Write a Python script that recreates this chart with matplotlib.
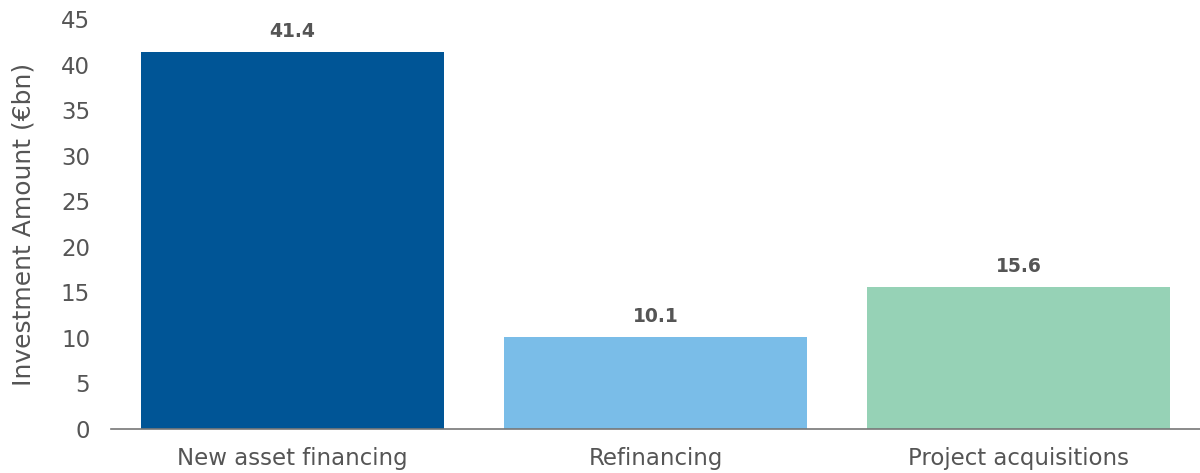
import matplotlib.pyplot as plt

# data
categories = ['New asset financing', 'Refinancing', 'Project acquisitions']
amounts = [41.4, 10.1, 15.6]
colors = ['#005596', '#7abde8', '#96d2b6']
yticks = [0, 5, 10, 15, 20, 25, 30, 35, 40, 45]

plt.rcParams['font.family'] = ['DejaVu Sans']
grey = '#555555'

fig = plt.figure(figsize=(12, 4.73), dpi=100)
ax = fig.add_axes([0.0925, 0.093, 0.9075, 0.866])

x = range(len(categories))
bars = ax.bar(x, amounts, width=0.835, color=colors)

for b, v in zip(bars, amounts):
    ax.annotate('{:.1f}'.format(v), (b.get_x() + b.get_width() / 2, v),
                xytext=(0, 8), textcoords='offset points',
                ha='center', va='bottom', fontsize=13.5, fontweight='bold', color=grey)

ax.set_xlim(-0.5, 2.5)
ax.set_ylim(0, 45)
ax.set_yticks(yticks)
ax.set_xticks(list(x))
ax.set_xticklabels(categories)
ax.tick_params(axis='y', length=0, pad=15, labelsize=16.5, labelcolor=grey)
ax.tick_params(axis='x', length=0, pad=13, labelsize=16.5, labelcolor=grey)
ax.set_ylabel('Investment Amount (€bn)', fontsize=18, color=grey, labelpad=18)

for s in ['top', 'right', 'left']:
    ax.spines[s].set_visible(False)
ax.spines['bottom'].set_color('#777777')
ax.spines['bottom'].set_linewidth(1.2)

plt.savefig('out.png', dpi=100)
